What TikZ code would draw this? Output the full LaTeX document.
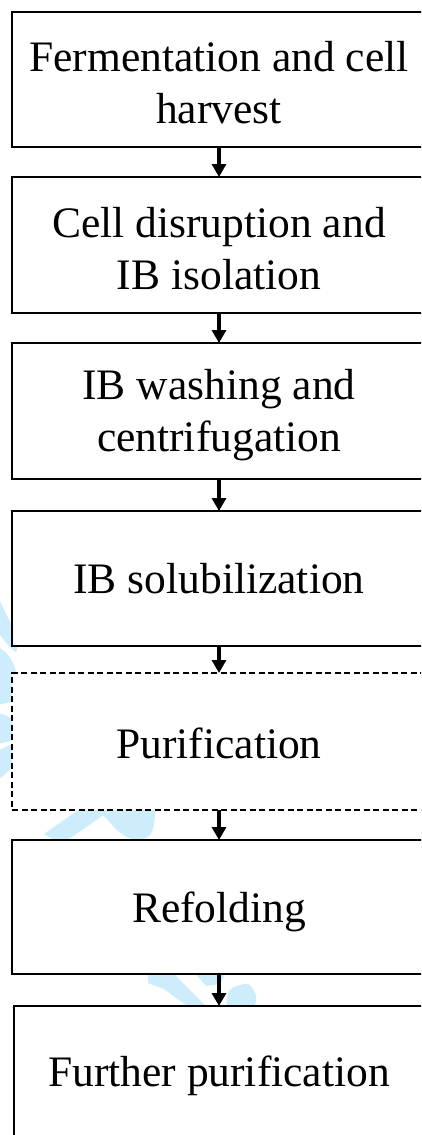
\documentclass[tikz,border=0pt]{standalone}
\usepackage{fontspec}
\setmainfont{Liberation Serif}
\usetikzlibrary{arrows.meta}
\definecolor{wmblue}{RGB}{206,237,252}
\begin{document}
\begin{tikzpicture}[x=1pt,y=-1pt,
  box/.style={draw=black,line width=2.4pt,fill=white,minimum width=414pt,inner sep=0pt,outer sep=0pt,anchor=north west},
  dbox/.style={box,dash pattern=on 6pt off 3.5pt},
  lbl/.style={font=\fontsize{43.5}{52}\selectfont,align=center,inner sep=0pt,anchor=base},
  arr/.style={line width=3.4pt,-{Triangle[length=13pt,width=14pt]}},
  wmark/.style={fill=wmblue,draw=none}]
\useasboundingbox (0,0) rectangle (421,1135);
\clip (0,0) rectangle (421,1135);
\fill[white] (0,0) rectangle (421,1135);
% faint watermark fragments seen around the boxes
\fill[wmark] plot[smooth cycle] coordinates {(-4,596) (8,618) (16,636) (16,652) (4,640) (-4,626)};
\fill[wmark] plot[smooth cycle] coordinates {(-4,650) (8,655) (16,672) (16,698) (6,703) (-4,700)};
\fill[wmark] plot[smooth cycle] coordinates {(-4,714) (16,722) (16,738) (-4,742)};
\fill[wmark] plot[smooth cycle] coordinates {(-4,754) (16,744) (16,762) (-4,780)};
\fill[wmark] (44,834) -- (62,844) -- (102,816) -- (106,806) -- (84,806) -- cycle;
\fill[wmark] plot[smooth cycle] coordinates {(98,806) (150,806) (154,824) (148,837) (132,839) (118,831) (108,820)};
\fill[wmark] (148,972) -- (172,972) -- (208,1008) -- (190,1008) -- (164,989) -- (148,983) -- cycle;
\fill[wmark] (194,972) -- (226,972) -- (220,984) -- (206,986) -- cycle;
\fill[wmark] plot[smooth cycle] coordinates {(230,990) (248,984) (256,996) (252,1008) (228,1008)};
% boxes
\node[box,minimum height=135pt] (b1) at (12,12) {};
\node[box,minimum height=136pt] (b2) at (12,177) {};
\node[box,minimum height=136pt] (b3) at (12,343) {};
\node[box,minimum height=135pt] (b4) at (12,511) {};
\node[dbox,minimum height=137pt] (b5) at (12,673) {};
\node[box,minimum height=134pt] (b6) at (12,840) {};
\node[box,minimum height=200pt] (b7) at (14,1006) {};
% labels
\node[lbl] (t1a) at (219,71) {Fermentation and cell};
\node[lbl] (t1b) at (219,123) {harvest};
\node[lbl] (t2a) at (219,237) {Cell disruption and};
\node[lbl] (t2b) at (219,289) {IB isolation};
\node[lbl] (t3a) at (219,399) {IB washing and};
\node[lbl] (t3b) at (219,451) {centrifugation};
\node[lbl] (t4) at (219,593) {IB solubilization};
\node[lbl] (t5) at (219,758) {Purification};
\node[lbl] (t6) at (219,922) {Refolding};
\node[lbl] (t7) at (219,1086) {Further purification};
% connectors
\draw[arr] (b1.south) -- (b2.north);
\draw[arr] (b2.south) -- (b3.north);
\draw[arr] (b3.south) -- (b4.north);
\draw[arr] (b4.south) -- (b5.north);
\draw[arr] (b5.south) -- (b6.north);
\draw[arr] (b6.south) -- (b7.north -| b6.south);
\end{tikzpicture}
\end{document}
